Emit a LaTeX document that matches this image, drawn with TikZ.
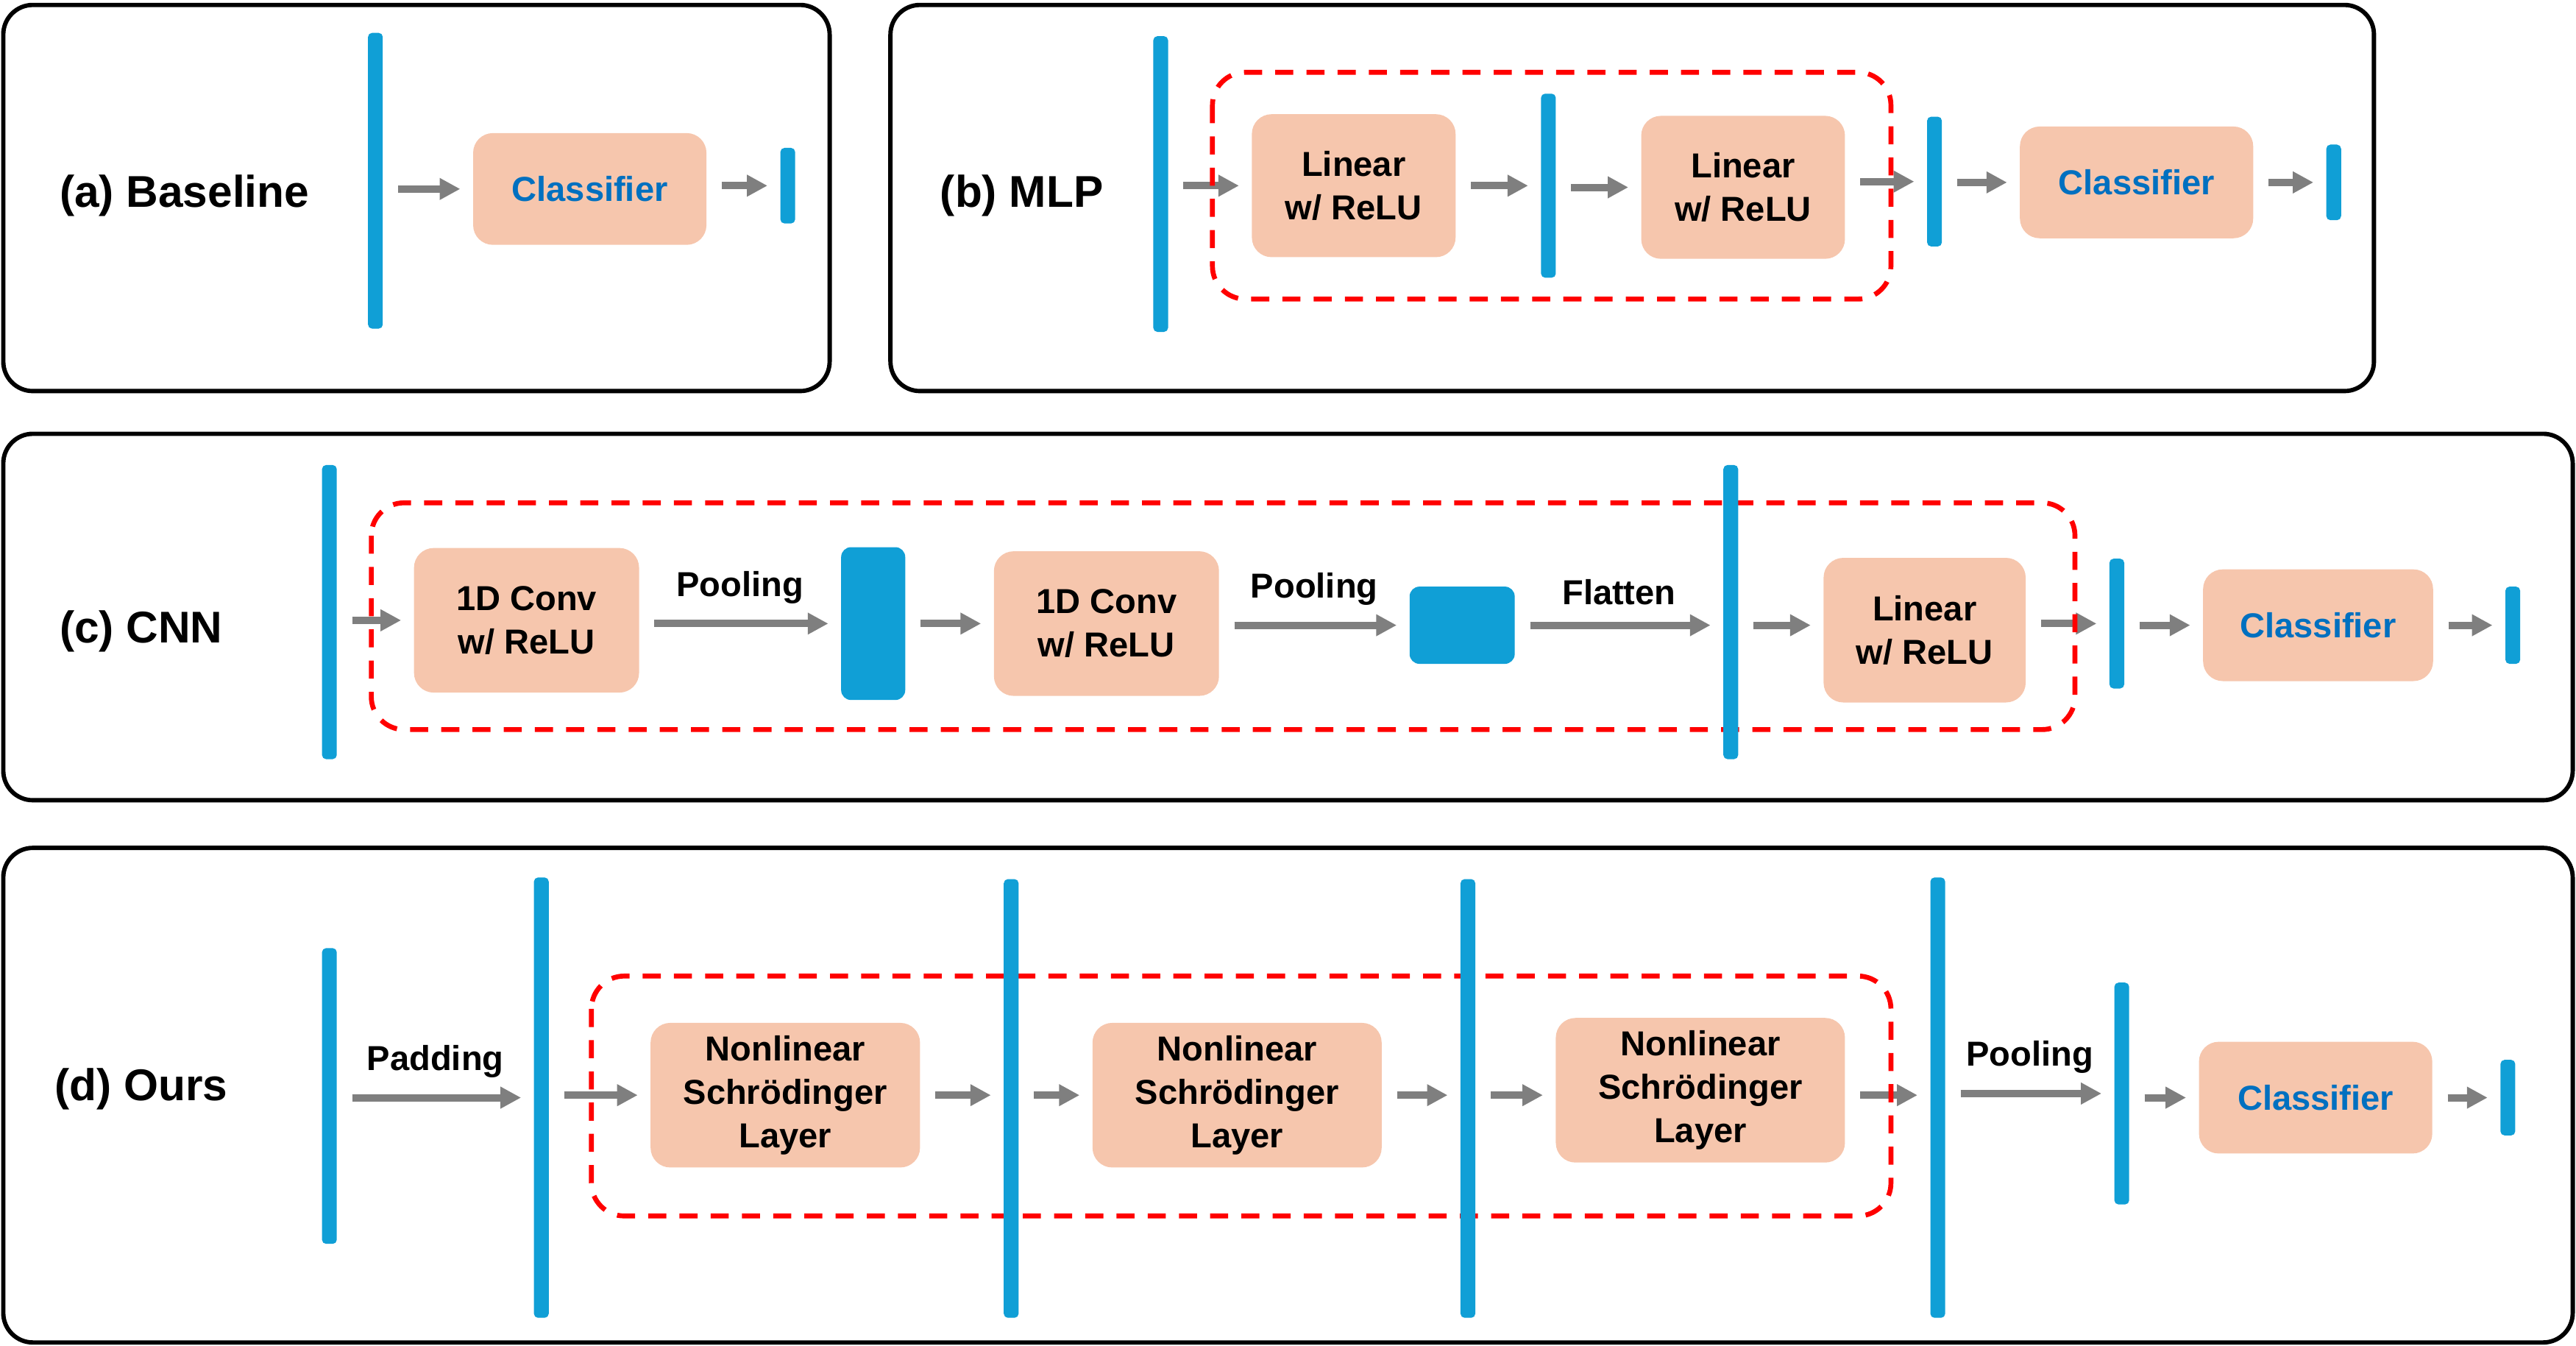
\documentclass[tikz,border=0pt]{standalone}
\usepackage{fontspec}
\setmainfont{Liberation Sans}
\usetikzlibrary{arrows.meta,backgrounds}
\definecolor{featCol}{RGB}{16,159,214}
\definecolor{boxCol}{RGB}{246,198,173}
\definecolor{clsCol}{RGB}{0,112,192}
\definecolor{flowCol}{RGB}{127,127,127}
\definecolor{grpCol}{RGB}{255,0,0}
\newcommand{\Lbox}{\fontsize{12}{15}\selectfont\bfseries}
\tikzset{
  panel/.style={draw=black, line width=1.5pt, rounded corners=3.6mm},
  tag/.style={anchor=west, inner sep=0pt, font=\fontsize{15.4}{18}\selectfont\bfseries},
  feat/.style={fill=featCol, rounded corners=0.5mm, inner sep=0pt, minimum width=1.8mm},
  blk/.style={fill=boxCol, rounded corners=2.4mm, inner sep=0pt, align=center, font=\Lbox},
  clsbox/.style={blk, text=clsCol, minimum width=28.4mm, minimum height=13.6mm},
  flow/.style={-{Triangle[length=2.5mm,width=2.5mm]}, flowCol, line width=0.9mm,
               shorten <=1.8mm, shorten >=1.5mm},
  op/.style={above=2mm, inner sep=0pt, font=\Lbox, text=black},
  grp/.style={draw=grpCol, line width=1.7pt, dash pattern=on 2.2mm off 1.6mm, rounded corners=4mm},
}
\begin{document}
\begin{tikzpicture}[x=0.2mm, y=-0.2mm]
  \useasboundingbox (0,0) rectangle (1568,819);

  % panels
  \draw[panel] (2,3) rectangle (505,238);
  \draw[panel] (542,3) rectangle (1445,238);
  \draw[panel] (2,264) rectangle (1566,487);
  \draw[panel] (2,516) rectangle (1566,817);

  % (a) baseline
  \node[tag] (tagA) at (36,119) {(a) Baseline};
  \node[feat, minimum height=36mm] (a_in) at (228.5,110) {};
  \node[clsbox] (a_cls) at (359,115) {Classifier};
  \node[feat, minimum height=9.2mm] (a_out) at (479.5,113) {};

  % (b) MLP
  \node[tag] (tagB) at (572,119) {(b) MLP};
  \node[feat, minimum height=36mm] (b_in) at (706.5,112) {};
  \node[blk, minimum width=24.8mm, minimum height=17.4mm] (b_l1) at (824,113) {Linear\\w/ ReLU};
  \node[feat, minimum height=22.4mm] (b_h1) at (942.5,113) {};
  \node[blk, minimum width=24.8mm, minimum height=17.4mm] (b_l2) at (1061,114) {Linear\\w/ ReLU};
  \node[feat, minimum height=15.8mm] (b_h2) at (1177.5,110.5) {};
  \node[clsbox] (b_cls) at (1300.5,111) {Classifier};
  \node[feat, minimum height=9.2mm] (b_out) at (1420.5,111) {};

  % (c) CNN
  \node[tag] (tagC) at (36,384) {(c) CNN};
  \node[feat, minimum height=35.8mm] (c_in) at (200.5,372.5) {};
  \node[blk, minimum width=27.4mm, minimum height=17.6mm] (c_cv1) at (320.5,377.5) {1D Conv\\w/ ReLU};
  \node[feat, minimum width=7.8mm, minimum height=18.6mm, rounded corners=1.2mm] (c_p1) at (531.5,379.5) {};
  \node[blk, minimum width=27.4mm, minimum height=17.6mm] (c_cv2) at (673.5,379.5) {1D Conv\\w/ ReLU};
  \node[feat, minimum width=12.8mm, minimum height=9.4mm, rounded corners=1.2mm] (c_p2) at (890,380.5) {};
  \node[feat, minimum height=35.8mm] (c_fl) at (1053.5,372.5) {};
  \node[blk, minimum width=24.6mm, minimum height=17.6mm] (c_lin) at (1171.5,383.5) {Linear\\w/ ReLU};
  \node[feat, minimum height=15.8mm] (c_h) at (1288.5,379.5) {};
  \node[clsbox, minimum width=28mm] (c_cls) at (1411,380.5) {Classifier};
  \node[feat, minimum height=9.4mm] (c_out) at (1529.5,380.5) {};

  % (d) ours
  \node[tag] (tagD) at (33,663) {(d) Ours};
  \node[feat, minimum height=36mm] (d_in) at (200.5,667) {};
  \node[feat, minimum height=53.6mm] (d_pad) at (329.5,668) {};
  \node[blk, minimum width=32.8mm, minimum height=17.6mm] (d_n1) at (478,666.5) {Nonlinear\\Schrödinger\\Layer};
  \node[feat, minimum height=53.4mm] (d_b2) at (615.5,668.5) {};
  \node[blk, minimum width=35.2mm, minimum height=17.6mm] (d_n2) at (753,666.5) {Nonlinear\\Schrödinger\\Layer};
  \node[feat, minimum height=53.4mm] (d_b3) at (893.5,668.5) {};
  \node[blk, minimum width=35.2mm, minimum height=17.6mm] (d_n3) at (1035,663.5) {Nonlinear\\Schrödinger\\Layer};
  \node[feat, minimum height=53.6mm] (d_b4) at (1179.5,668) {};
  \node[feat, minimum height=27mm] (d_pool) at (1291.5,665.5) {};
  \node[clsbox] (d_cls) at (1409.5,668) {Classifier};
  \node[feat, minimum height=9.2mm] (d_out) at (1526.5,668) {};

  \begin{scope}[on background layer]
    % connectors
    \draw[flow] (a_in.east |- a_cls) -- (a_cls);
    \draw[flow] (a_cls.east |- a_out) -- (a_out);

    \draw[flow] (b_in.east |- b_l1) -- (b_l1);
    \draw[flow] (b_l1) -- (b_l1 -| b_h1.west);
    \draw[flow] (b_h1.east |- b_l2) -- (b_l2);
    \draw[flow] (b_l2.east |- b_h2) -- (b_h2);
    \draw[flow] (b_h2.east |- b_cls) -- (b_cls);
    \draw[flow] (b_cls.east |- b_out) -- (b_out);

    \draw[flow] (c_in.east |- c_cv1) -- (c_cv1);
    \draw[flow] (c_cv1.east |- c_p1) -- node[op]{Pooling} (c_p1);
    \draw[flow] (c_p1) -- (c_p1 -| c_cv2.west);
    \draw[flow] (c_cv2.east |- c_p2) -- node[op]{Pooling} (c_p2);
    \draw[flow] (c_p2) -- node[op]{Flatten} (c_p2 -| c_fl.west);
    \draw[flow] (c_fl.east |- c_p2) -- (c_lin.west |- c_p2);
    \draw[flow] (c_lin.east |- c_h) -- (c_h);
    \draw[flow] (c_h.east |- c_cls) -- (c_cls);
    \draw[flow] (c_cls.east |- c_out) -- (c_out);

    \draw[flow] (d_in.east |- d_pad) -- node[op]{Padding} (d_pad);
    \draw[flow] (d_pad.east |- d_n1) -- (d_n1);
    \draw[flow] (d_n1) -- (d_n1 -| d_b2.west);
    \draw[flow] (d_b2.east |- d_n2) -- (d_n2);
    \draw[flow] (d_n2) -- (d_n2 -| d_b3.west);
    \draw[flow] (d_b3.east |- d_n2) -- (d_n3.west |- d_n2);
    \draw[flow] (d_n3.east |- d_n2) -- (d_n2 -| d_b4.west);
    \draw[flow] (d_b4.east |- d_pool) -- node[op]{Pooling} (d_pool);
    \draw[flow] (d_pool.east |- d_cls) -- (d_cls);
    \draw[flow] (d_cls.east |- d_out) -- (d_out);

    % stacked blocks
    \draw[grp] (738,44) rectangle (1151,182);
    \draw[grp] (226,306) rectangle (1263,444);
    \draw[grp] (360,594) rectangle (1151,740);
  \end{scope}
\end{tikzpicture}
\end{document}
